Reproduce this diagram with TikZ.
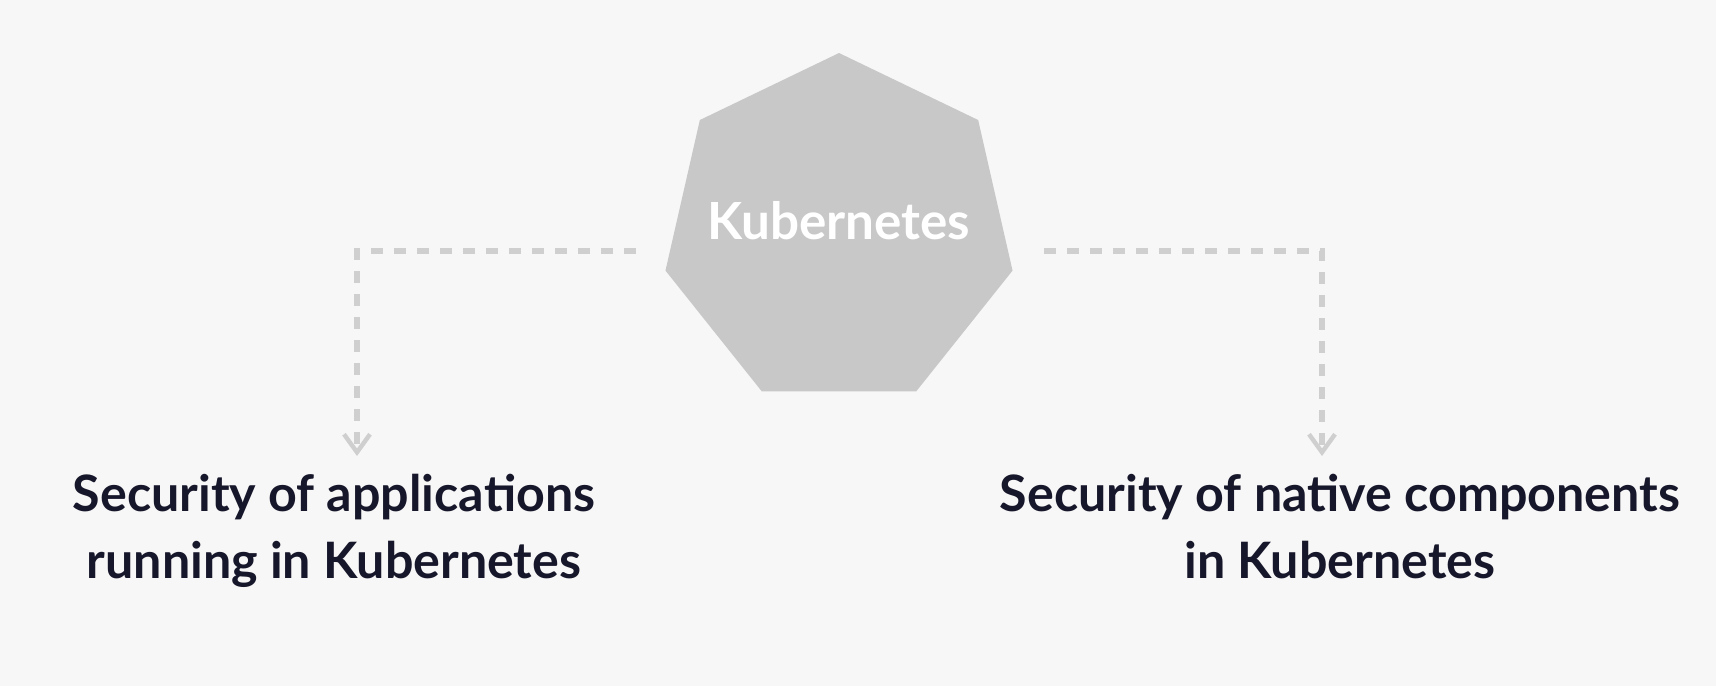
\documentclass[tikz,border=0pt]{standalone}
\usepackage{fontspec}
\setmainfont{Lato}
\usetikzlibrary{shapes.geometric,arrows.meta}

\definecolor{bggray}{HTML}{F7F7F7}
\definecolor{heptagray}{HTML}{C8C8C8}
\definecolor{dashgray}{HTML}{CFCFCF}
\definecolor{navytext}{HTML}{17172B}

\tikzset{
    hepta/.style={regular polygon, regular polygon sides=7, fill=heptagray, minimum size=178pt, inner sep=0pt, outer sep=0pt},
    title/.style={font=\fontsize{25.1}{33.5}\selectfont\bfseries, text=navytext, align=center, inner sep=0pt},
    hepttitle/.style={font=\fontsize{25.6}{30}\selectfont\bfseries, text=white, inner sep=0pt},
    link/.style={draw=dashgray, line width=2.75pt, dash pattern=on 6pt off 5.5pt, -{Straight Barb[length=9pt,width=13pt,line width=2.2pt]}}
}

\begin{document}
\begin{tikzpicture}[x=0.5pt, y=-0.5pt]
            \fill[bggray] (0,0) rectangle (1716,686);
            % center shape
            \node[hepta] (k8s) at (839,231) {};
            \node[hepttitle] (k8slabel) at (839,221) {Kubernetes};
            % the two areas
            \node[title, anchor=north] (appsec) at (334,474) {Security of applications\\running in Kubernetes};
            \node[title, anchor=north] (nativesec) at (1340,474) {Security of native components\\in Kubernetes};
            \coordinate (lstart) at (636,251);
            \coordinate (lend) at (357,456);
            \coordinate (rstart) at (1044,251);
            \coordinate (rend) at (1322,456);
            \draw[link] (lstart) -| (lend);
            \draw[link] (rstart) -| (rend);
        \end{tikzpicture}
\end{document}
